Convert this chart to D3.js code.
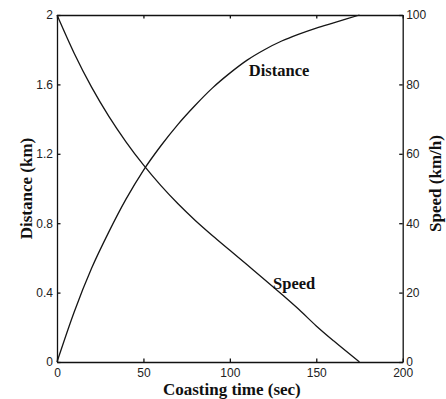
<!DOCTYPE html>
<html>
<head>
<meta charset="utf-8">
<script src="https://cdn.jsdelivr.net/npm/d3@7"></script>
<style>
  html, body { margin: 0; padding: 0; background: #fff; }
  svg { display: block; }
  .axisLabel text { font-family: 'Liberation Sans', Arial, sans-serif; font-size: 12px; fill: #222; }
  .axisLabel path, .axisLabel line { stroke: #111; stroke-width: 1.3; }
  .title { font-family: 'Liberation Serif', 'Times New Roman', serif; font-weight: bold; font-size: 17px; fill: #111; }
  .curveLabel { font-family: 'Liberation Serif', 'Times New Roman', serif; font-weight: bold; font-size: 16.5px; fill: #111; }
  .curve { fill: none; stroke: #151515; stroke-width: 1.3; }
</style>
</head>
<body>
<svg width="446" height="399"></svg>
<script>
// tick values
const timeTicks = [0, 50, 100, 150, 200]
const distTicks = [0, 0.4, 0.8, 1.2, 1.6, 2]
const speedTicks = [0, 20, 40, 60, 80, 100]

// distance curve (sec, km)
const distTime = [0, 10, 20, 30, 40, 50, 60, 70, 80, 90, 100, 110, 120, 130, 140, 150, 160, 175]
const distKm = [0, 0.29, 0.54, 0.75, 0.94, 1.105, 1.245, 1.37, 1.48, 1.58, 1.665, 1.74, 1.80, 1.85, 1.89, 1.925, 1.955, 2.0]

// speed curve (sec, km/h)
const speedTime = [0, 10, 20, 30, 40, 50, 60, 70, 80, 90, 100, 110, 120, 130, 140, 150, 160, 175]
const speedKmh = [100, 88.9, 79.2, 70.8, 63.4, 56.8, 50.9, 45.6, 40.8, 36.4, 32.2, 28, 23.8, 19.5, 15.1, 10.4, 6.1, 0]

draw()

function draw () {
  const dim = setDimensions()
  const scales = setScales(dim)
  const g = d3.select('svg').append('g')
    .attr('transform', `translate(${dim.margin.left},${dim.margin.top})`)

  drawAxes(g, dim, scales)
  drawCurves(g, scales)
  drawTitles(dim)
}

function setDimensions () {
  const margin = {top: 15, right: 43.3, bottom: 37, left: 57}
  const width = 446
  const height = 399
  return { width, height, margin, w: width - margin.left - margin.right, h: height - margin.top - margin.bottom }
}

function setScales ({ w, h }) {
  return {
    x: d3.scaleLinear().domain([0, 200]).range([0, w]),
    yDist: d3.scaleLinear().domain([0, 2]).range([h, 0]),
    ySpeed: d3.scaleLinear().domain([0, 100]).range([h, 0])
  }
}

function drawAxes (g, { w, h }, { x, yDist, ySpeed }) {
  const tick = -3.5
  const fmt = d3.format('~g')

  g.append('g')
    .attr('class', 'axisLabel')
    .attr('transform', `translate(0,${h})`)
    .call(d3.axisBottom(x).tickValues(timeTicks).tickFormat(fmt)
      .tickSizeInner(tick).tickSizeOuter(0).tickPadding(6))

  g.append('g') // top frame with ticks, no labels
    .attr('class', 'axisLabel')
    .call(d3.axisTop(x).tickValues(timeTicks).tickFormat('')
      .tickSizeInner(tick).tickSizeOuter(0))

  g.append('g')
    .attr('class', 'axisLabel')
    .call(d3.axisLeft(yDist).tickValues(distTicks).tickFormat(fmt)
      .tickSizeInner(tick).tickSizeOuter(0).tickPadding(4))

  g.append('g')
    .attr('class', 'axisLabel')
    .attr('transform', `translate(${w},0)`)
    .call(d3.axisRight(ySpeed).tickValues(speedTicks).tickFormat(fmt)
      .tickSizeInner(tick).tickSizeOuter(0).tickPadding(3.5))
}

function drawCurves (g, { x, yDist, ySpeed }) {
  const dist = distTime.map((t, i) => [t, distKm[i]])
  const speed = speedTime.map((t, i) => [t, speedKmh[i]])

  g.append('path')
    .datum(dist)
    .attr('class', 'curve')
    .attr('d', d3.line().curve(d3.curveMonotoneX)
      .x(d => x(d[0])).y(d => yDist(d[1])))

  g.append('path')
    .datum(speed)
    .attr('class', 'curve')
    .attr('d', d3.line().curve(d3.curveMonotoneX)
      .x(d => x(d[0])).y(d => ySpeed(d[1])))

  g.append('text').attr('class', 'curveLabel')
    .attr('x', x(111)).attr('y', yDist(1.65))
    .text('Distance')
  g.append('text').attr('class', 'curveLabel')
    .attr('x', x(125)).attr('y', ySpeed(21))
    .text('Speed')
}

function drawTitles ({ margin, h, w }) {
  const svg = d3.select('svg')
  const midY = margin.top + h / 2

  svg.append('text').attr('class', 'title')
    .attr('x', margin.left + w / 2 + 2).attr('y', 395)
    .attr('text-anchor', 'middle')
    .text('Coasting time (sec)')

  svg.append('text').attr('class', 'title')
    .attr('transform', `translate(32,${midY}) rotate(-90)`)
    .attr('text-anchor', 'middle')
    .text('Distance (km)')

  svg.append('text').attr('class', 'title')
    .attr('transform', `translate(441,${midY - 5}) rotate(-90)`)
    .attr('text-anchor', 'middle')
    .text('Speed (km/h)')
}
</script>
</body>
</html>
